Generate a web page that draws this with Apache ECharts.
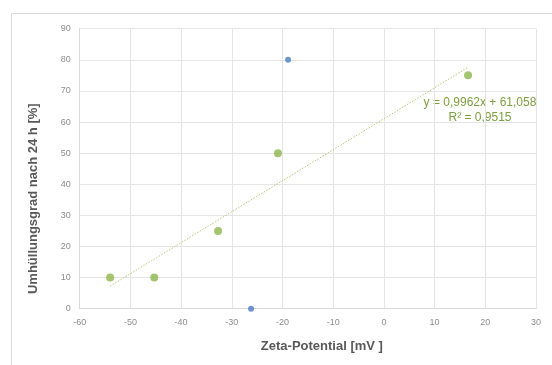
<!DOCTYPE html>
<html><head><meta charset="utf-8">
<script src="https://cdn.jsdelivr.net/npm/echarts@6/dist/echarts.min.js"></script>
<style>html,body{margin:0;padding:0;background:#fff}#c{width:552px;height:365px}</style>
</head><body><div id="c"></div>
<script>
// Data
const blueX = [-18.9, -26.2];
const blueY = [80, 0];
const greenX = [-54.0, -45.3, -32.7, -20.9, 16.6];
const greenY = [10, 10, 25, 50, 75];
const trendSlope = 0.9962;
const trendIntercept = 61.058;
const eqText = 'y = 0,9962x + 61,058';
const r2Text = 'R² = 0,9515';
const xTicks = [-60, -50, -40, -30, -20, -10, 0, 10, 20, 30];
const yTicks = [0, 10, 20, 30, 40, 50, 60, 70, 80, 90];
const xTitle = 'Zeta-Potential [mV ]';
const yTitle = 'Umhüllungsgrad nach 24 h [%]';

const font = '"Liberation Sans", Arial, sans-serif';
const xMin = Math.min(...greenX), xMax = Math.max(...greenX);
const trend = [[xMin, trendSlope * xMin + trendIntercept], [xMax, trendSlope * xMax + trendIntercept]];

const chart = echarts.init(document.getElementById('c'), null, {renderer: 'canvas'});
chart.setOption({
  animation: false,
  backgroundColor: '#fff',
  textStyle: {fontFamily: font},
  grid: {left: 79.7, right: 16, top: 28.7, bottom: 56.3, containLabel: false},
  graphic: [
    {type: 'rect', shape: {x: 11.5, y: 13.5, width: 600, height: 400}, style: {fill: 'none', stroke: '#d9d9d9', lineWidth: 1}, z: -10},
    {type: 'text', x: 480, y: 103, style: {text: eqText, fill: '#7d9f3f', font: '12px ' + font, textAlign: 'center', textVerticalAlign: 'middle'}},
    {type: 'text', x: 480, y: 118, style: {text: r2Text, fill: '#7d9f3f', font: '12px ' + font, textAlign: 'center', textVerticalAlign: 'middle'}}
  ],
  xAxis: {
    type: 'value', min: xTicks[0], max: xTicks[xTicks.length - 1], interval: 10,
    name: xTitle, nameLocation: 'middle', nameGap: 31,
    nameTextStyle: {fontFamily: font, fontWeight: 'bold', fontSize: 13, color: '#595959', padding: [0, 0, 0, 28]},
    axisLine: {show: true, onZero: false, lineStyle: {color: '#d9d9d9'}},
    axisTick: {show: false},
    axisLabel: {color: '#8c8c8c', fontSize: 9, margin: 9, fontFamily: font},
    splitLine: {show: true, lineStyle: {color: '#e5e5e5'}}
  },
  yAxis: {
    type: 'value', min: yTicks[0], max: yTicks[yTicks.length - 1], interval: 10,
    name: yTitle, nameLocation: 'middle', nameGap: 40,
    nameTextStyle: {fontFamily: font, fontWeight: 'bold', fontSize: 13, color: '#595959', padding: [0, 0, 0, -60]},
    axisLine: {show: true, onZero: false, lineStyle: {color: '#d9d9d9'}},
    axisTick: {show: false},
    axisLabel: {color: '#8c8c8c', fontSize: 9, margin: 9, fontFamily: font},
    splitLine: {show: true, lineStyle: {color: '#e5e5e5'}}
  },
  series: [
    {
      type: 'line', data: trend, symbol: 'none', silent: true,
      lineStyle: {color: '#b5cc7a', width: 1, type: [1.5, 1.5]}, z: 1
    },
    {
      type: 'scatter', data: greenX.map((x, i) => [x, greenY[i]]),
      symbolSize: 8, itemStyle: {color: '#8db54b'}, z: 3
    },
    {
      type: 'scatter', data: blueX.map((x, i) => [x, blueY[i]]),
      symbolSize: 6, itemStyle: {color: '#4a7cc4'}, z: 3
    }
  ]
});
</script></body></html>
